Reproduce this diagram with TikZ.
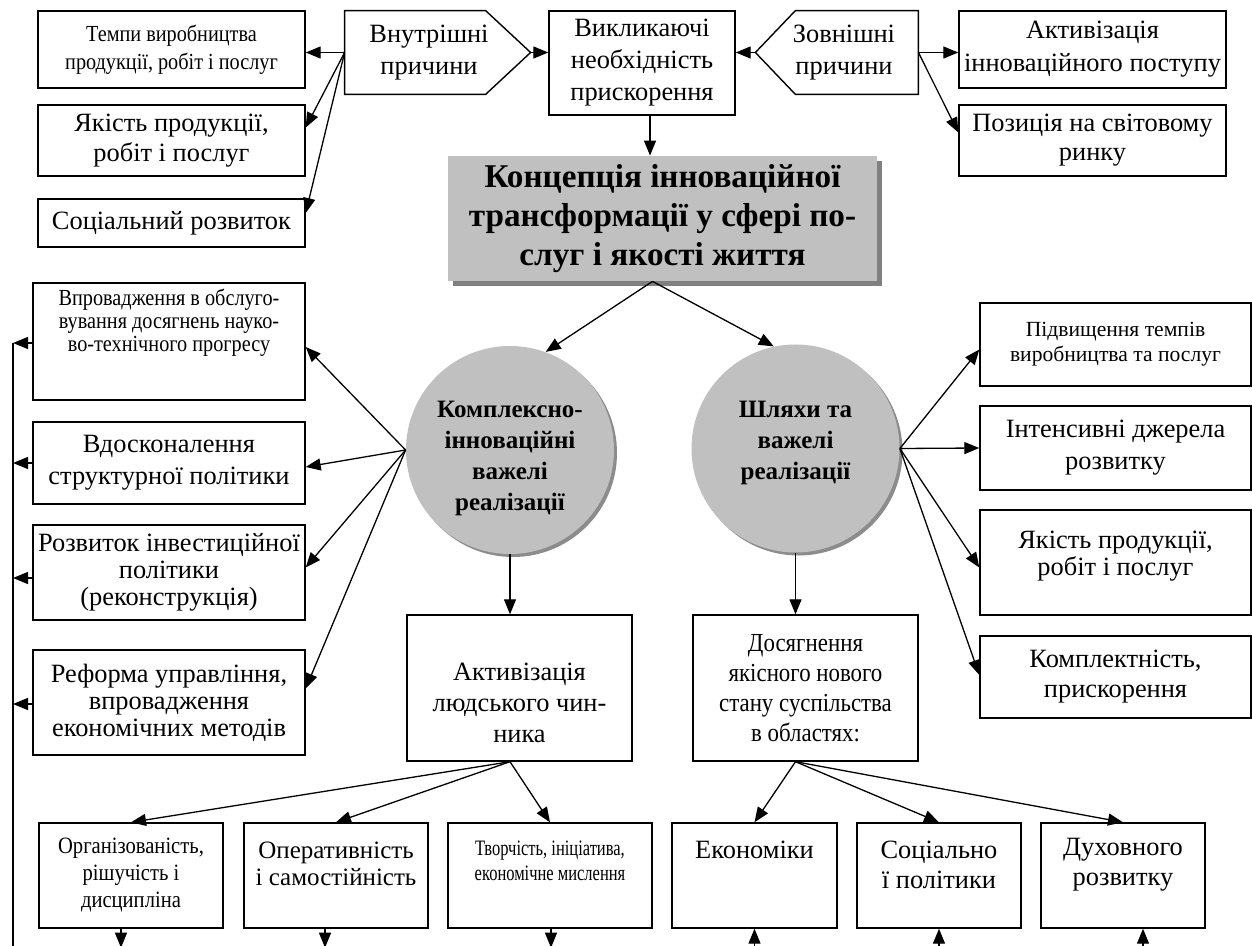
\documentclass[tikz,border=0pt]{standalone}
\usepackage{fontspec}
\setmainfont{Liberation Serif}
\newfontfamily\narrowf{Liberation Serif}[FakeStretch=0.88]
\newfontfamily\narrowerf{Liberation Serif}[FakeStretch=0.75]
\usetikzlibrary{arrows.meta,calc,shadows}
\definecolor{silver}{HTML}{C0C0C0}
\definecolor{shadegray}{HTML}{808080}
\tikzset{
  bx/.style={draw, line width=0.7pt, align=center, inner sep=0pt},
  tx/.style={align=center, inner sep=0pt},
  outline/.style={draw, line width=0.7pt},
  ln/.style={line width=0.65pt},
  arr/.style={line width=0.65pt, -{Triangle[length=7.5pt,width=6pt]}},
  circ/.style={circle, fill=silver, minimum size=104pt, inner sep=0pt, align=center,
    drop shadow={shadow xshift=1.5pt, shadow yshift=-1.5pt, fill=shadegray, opacity=0.9}},
  circtext/.style={tx, font=\bfseries\fontsize{12.5}{15.5}\selectfont},
}
\begin{document}
\begin{tikzpicture}[x=0.5pt,y=-0.5pt]
\fill[white] (0,0) rectangle (1252,946);
\useasboundingbox (0,0) rectangle (1252,946);

% ---------- top row ----------
\node[bx, minimum width=133.5pt, minimum height=38.5pt,
  font=\narrowf\fontsize{11.5}{14}\selectfont] (tempy) at (171.5,49.5)
  {Темпи виробництва\\продукції, робіт і послуг};
\node[bx, minimum width=133.5pt, minimum height=35.5pt,
  font=\fontsize{13.2}{15}\selectfont] (yakl) at (171.5,140.5)
  {Якість продукції,\\робіт і послуг};
\node[bx, minimum width=133.5pt, minimum height=24pt,
  font=\fontsize{13.2}{15}\selectfont] (soc) at (171.5,223)
  {Соціальний розвиток};

\node[tx, minimum width=84pt, minimum height=41.5pt,
  font=\fontsize{13.2}{16}\selectfont] (vnutr) at (429,52.5)
  {Внутрішні\\причини};
\coordinate (vnutrtip) at ($(vnutr.west)+(186,0)$);
\draw[outline] (vnutr.north west) -- ($(vnutr.north west)+(141,0)$) -- (vnutrtip)
  -- ($(vnutr.south west)+(141,0)$) -- (vnutr.south west) -- cycle;

\node[bx, minimum width=93pt, minimum height=52pt,
  font=\fontsize{13.2}{16}\selectfont] (vyk) at (642,63)
  {Викликаючі\\необхідність\\прискорення};

\node[tx, minimum width=74pt, minimum height=41.5pt,
  font=\fontsize{13.2}{16}\selectfont] (zovn) at (844,52.5)
  {Зовнішні\\причини};
\coordinate (zovntip) at ($(zovn.east)+(-163,0)$);
\draw[outline] (zovn.north east) -- ($(zovn.north east)+(-123,0)$) -- (zovntip)
  -- ($(zovn.south east)+(-123,0)$) -- (zovn.south east) -- cycle;

\node[bx, minimum width=133.5pt, minimum height=38.5pt,
  font=\fontsize{13.2}{16.5}\selectfont] (aktinn) at (1092.5,49.5)
  {Активізація\\інноваційного поступу};
\node[bx, minimum width=133.5pt, minimum height=35.5pt,
  font=\fontsize{13.2}{14.5}\selectfont] (poz) at (1092.5,140.5)
  {Позиція на світовому\\ринку};

% ---------- main box ----------
\node[tx, fill=silver, minimum width=214.5pt, minimum height=62.5pt,
  drop shadow={shadow xshift=2.5pt, shadow yshift=-2.5pt, fill=shadegray, opacity=1},
  font=\bfseries\fontsize{16.6}{19.5}\selectfont] (main) at (662.5,218.5)
  {Концепція інноваційної\\трансформації у сфері по-\\слуг і якості життя};

% ---------- left column ----------
\node[bx, minimum width=136pt, minimum height=58.5pt] (vprov) at (169,341.5) {};
\node[tx, font=\narrowf\fontsize{11.5}{11.5}\selectfont] (vprovt) at (169,323)
  {Впровадження в обслуго-\\вування досягнень науко-\\во-технічного прогресу};
\node[bx, minimum width=136pt, minimum height=41pt,
  font=\fontsize{13.2}{16}\selectfont] (vdosk) at (169,463)
  {Вдосконалення\\структурної політики};
\node[bx, minimum width=136pt, minimum height=47.5pt,
  font=\fontsize{13.2}{13.5}\selectfont] (rozv) at (169,572.5)
  {Розвиток інвестиційної\\політики\\(реконструкція)};
\node[bx, minimum width=136pt, minimum height=52.5pt,
  font=\fontsize{13.2}{13.5}\selectfont] (refo) at (169,702.5)
  {Реформа управління,\\впровадження\\економічних методів};

% ---------- circles ----------
\node[circ] (kompl) at (510,450) {};
\node[circtext] (komplt) at (510,458) {Комплексно-\\інноваційні\\важелі\\реалізації};
\node[circ] (shl) at (795.5,448.5) {};
\node[circtext] (shlt) at (795.5,443) {Шляхи та\\важелі\\реалізації};

% ---------- right column ----------
\node[bx, minimum width=135.5pt, minimum height=41.5pt,
  font=\fontsize{10.8}{12.5}\selectfont] (pidv) at (1115.5,344.5)
  {Підвищення темпів\\виробництва та послуг};
\node[bx, minimum width=135.5pt, minimum height=42pt,
  font=\fontsize{13.2}{16}\selectfont] (intens) at (1115.5,448)
  {Інтенсивні джерела\\розвитку};
\node[bx, minimum width=135.5pt, minimum height=52.5pt] (yakr) at (1115.5,562.5) {};
\node[tx, font=\fontsize{13.2}{13.5}\selectfont] (yakrt) at (1115.5,556.5)
  {Якість продукції,\\робіт і послуг};
\node[bx, minimum width=135.5pt, minimum height=41pt,
  font=\fontsize{13.2}{15}\selectfont] (komplekt) at (1115.5,677)
  {Комплектність,\\прискорення};

% ---------- middle boxes ----------
\node[bx, minimum width=112.5pt, minimum height=73pt] (aktl) at (519.5,688) {};
\node[tx, font=\fontsize{13.2}{15.5}\selectfont] (aktlt) at (519.5,703)
  {Активізація\\людського чин-\\ника};
\node[bx, minimum width=112.5pt, minimum height=73pt,
  font=\narrowf\fontsize{13}{15}\selectfont] (dosy) at (805.5,688)
  {Досягнення\\якісного нового\\стану суспільства\\в областях:};

% ---------- bottom row ----------
\node[bx, minimum width=92pt, minimum height=52.5pt,
  font=\narrowf\fontsize{11.7}{13.5}\selectfont] (org) at (131,875.5)
  {Організованість,\\рішучість і\\дисципліна};
\node[bx, minimum width=92pt, minimum height=52.5pt] (oper) at (336,875.5) {};
\node[tx, font=\fontsize{12.5}{13.5}\selectfont] (opert) at (336,863.5)
  {Оперативність\\і самостійність};
\node[bx, minimum width=102pt, minimum height=52.5pt] (tvor) at (550,875.5) {};
\node[tx, font=\narrowerf\fontsize{11}{12.5}\selectfont] (tvort) at (550,860.5)
  {Творчість, ініціатива,\\економічне мислення};
\node[bx, minimum width=82.5pt, minimum height=52.5pt] (ekon) at (754.5,875.5) {};
\node[tx, font=\fontsize{13.2}{15}\selectfont] (ekont) at (754.5,850)
  {Економіки};
\node[bx, minimum width=82pt, minimum height=52.5pt] (sots) at (939,875.5) {};
\node[tx, font=\fontsize{13.2}{15}\selectfont] (sotst) at (939,865)
  {Соціально\\ї політики};
\node[bx, minimum width=82pt, minimum height=52.5pt] (dukh) at (1123,875.5) {};
\node[tx, font=\fontsize{13.2}{15}\selectfont] (dukht) at (1123,865)
  {Духовного\\розвитку};

% ---------- connectors: top ----------
\draw[arr] (vnutr.west) -- (vnutr.west -| tempy.east);
\draw[arr] (vnutr.west) -- ($(yakl.east)+(0,-13)$);
\draw[arr] (vnutr.west) -- ($(soc.east)+(0,-10)$);
\draw[arr] (vnutrtip) -- (vnutrtip -| vyk.west);
\draw[arr] (zovntip) -- (zovntip -| vyk.east);
\draw[arr] (zovn.east) -- (zovn.east -| aktinn.west);
\draw[arr] (zovn.east) -- ($(poz.west)+(0,-8)$);
\coordinate (vykb) at ($(vyk.south)+(8,0)$);
\draw[arr] (vykb) -- (vykb |- main.north);
\coordinate (mainb) at ($(main.south)+(-10,0)$);
\draw[arr] (mainb) -- (kompl.70);
\draw[arr] (mainb) -- (shl.102);

% ---------- connectors: circles ----------
\draw[arr] (kompl.west) -- ($(vprov.east)+(0,5.5)$);
\draw[arr] (kompl.west) -- ($(vdosk.east)+(0,4)$);
\draw[arr] (kompl.west) -- ($(rozv.east)+(0,-5)$);
\draw[arr] (kompl.west) -- ($(refo.east)+(0,-14)$);
\draw[arr] (shl.east) -- ($(pidv.west)+(0,5)$);
\draw[arr] (shl.east) -- (intens.west);
\draw[arr] (shl.east) -- ($(yakr.west)+(0,5)$);
\draw[arr] (shl.east) -- ($(komplekt.west)+(0,-2)$);
\draw[arr] (kompl.south) -- (kompl.south |- aktl.north);
\draw[arr] (shl.south) -- (shl.south |- dosy.north);

% ---------- connectors: lower ----------
\coordinate (aktlb) at (kompl.south |- aktl.south);
\draw[arr] (aktlb) -- (org.north);
\draw[arr] (aktlb) -- (oper.north);
\draw[arr] (aktlb) -- (tvor.north);
\coordinate (dosyb) at (shl.south |- dosy.south);
\draw[arr] (dosyb) -- (ekon.north);
\draw[arr] (dosyb) -- (sots.north);
\draw[arr] (dosyb) -- (dukh.north);

% ---------- bottom free ends ----------
\coordinate (e1) at ($(org.south)+(-10,19)$);
\coordinate (e2) at ($(oper.south)+(-11,19)$);
\coordinate (e3) at ($(tvor.south)+(1,19)$);
\coordinate (e4) at ($(ekon.south)+(0,19)$);
\coordinate (e5) at ($(sots.south)+(0,19)$);
\coordinate (e6) at ($(dukh.south)+(20,19)$);
\draw[arr] (e1 |- org.south) -- (e1);
\draw[arr] (e2 |- oper.south) -- (e2);
\draw[arr] (e3 |- tvor.south) -- (e3);
\draw[arr] (e4) -- (e4 |- ekon.south);
\draw[arr] (e5) -- (e5 |- sots.south);
\draw[arr] (e6) -- (e6 |- dukh.south);

% ---------- left feedback bus ----------
\coordinate (bustop) at (13,343);
\coordinate (busbot) at (13,946);
\coordinate (b1) at ($(vprov.west)+(0,1.5)$);
\coordinate (b2) at (vdosk.west);
\coordinate (b3) at ($(rozv.west)+(0,5.5)$);
\coordinate (b4) at ($(refo.west)+(0,1.5)$);
\draw[ln] (bustop) -- (busbot);
\draw[arr] (b1) -- (b1 -| bustop);
\draw[arr] (b2) -- (b2 -| bustop);
\draw[arr] (b3) -- (b3 -| bustop);
\draw[arr] (b4) -- (b4 -| bustop);
\end{tikzpicture}
\end{document}
